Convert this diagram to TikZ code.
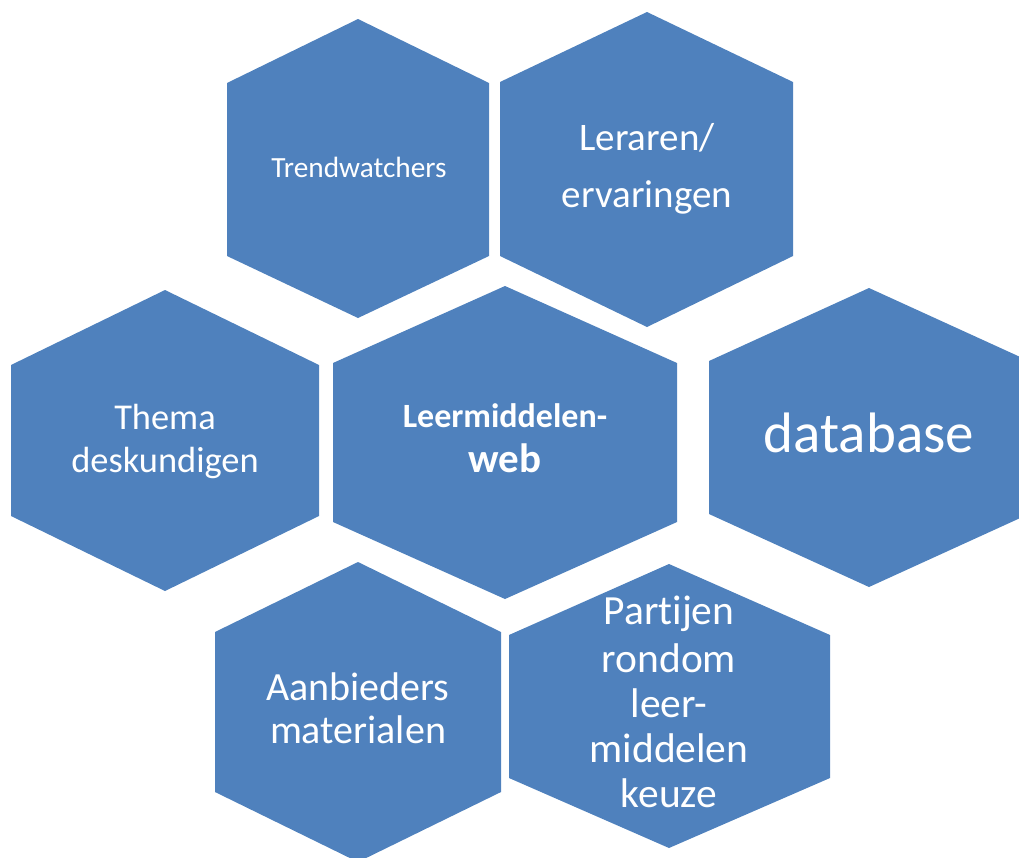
\documentclass[tikz,border=0pt]{standalone}
\usepackage{fontspec}
\setmainfont{Carlito}[Ligatures=NoCommon]
\definecolor{hexblue}{HTML}{4F81BD}
\tikzset{
  hexcell/.style={fill=hexblue, draw=none},
  lbl/.style={text=white, anchor=base, inner sep=0pt, outer sep=0pt},
}
\newcommand{\fsz}[1]{\fontsize{#1}{#1}\selectfont}
\begin{document}
\begin{tikzpicture}[x=1pt,y=-1pt]
\useasboundingbox (0,0) rectangle (1019,857);
\clip (0,0) rectangle (1019,857);
% hexagons
\path[hexcell] (358,19) -- (489,83) -- (489,256) -- (358,318) -- (227,256) -- (227,83) -- cycle;
\path[hexcell] (647,12) -- (793,82) -- (793,256) -- (647,327) -- (500,256) -- (500,82) -- cycle;
\path[hexcell] (165,290) -- (319,365) -- (319,516) -- (165,591) -- (11,516) -- (11,365) -- cycle;
\path[hexcell] (505,286) -- (677,363) -- (677,522) -- (505,599) -- (333,522) -- (333,363) -- cycle;
\path[hexcell] (869,288) -- (1029,361) -- (1029,514) -- (869,587) -- (709,514) -- (709,361) -- cycle;
\path[hexcell] (358,562) -- (501,632) -- (501,792) -- (358,862) -- (215,792) -- (215,632) -- cycle;
\path[hexcell] (669,564) -- (830,635) -- (830,778) -- (669,848) -- (509,778) -- (509,635) -- cycle;
% labels
\node[lbl, font=\fsz{29.3}] (tw) at (359,177) {Trendwatchers};
\node[lbl, font=\fsz{39}] (ler1) at (647,150) {Leraren/};
\node[lbl, font=\fsz{39}] (ler2) at (647,207) {ervaringen};
\node[lbl, font=\fsz{36.4}] (th1) at (165,429) {Thema};
\node[lbl, font=\fsz{36.4}] (th2) at (165,472) {deskundigen};
\node[lbl, font=\fsz{34}\bfseries] (lm1) at (505,427) {Leermiddelen-};
\node[lbl, font=\fsz{41}\bfseries] (lm2) at (505,472) {web};
\node[lbl, font=\fsz{57}] (db) at (869,452) {database};
\node[lbl, font=\fsz{40}] (ab1) at (358,700) {Aanbieders};
\node[lbl, font=\fsz{40}] (ab2) at (358,743) {materialen};
\node[lbl, font=\fsz{41.5}] (pa1) at (669,624) {Partijen};
\node[lbl, font=\fsz{41.5}] (pa2) at (669,672) {rondom};
\node[lbl, font=\fsz{41.5}] (pa3) at (669,717) {leer-};
\node[lbl, font=\fsz{41.5}] (pa4) at (669,762) {middelen};
\node[lbl, font=\fsz{41.5}] (pa5) at (669,807) {keuze};
\end{tikzpicture}
\end{document}
